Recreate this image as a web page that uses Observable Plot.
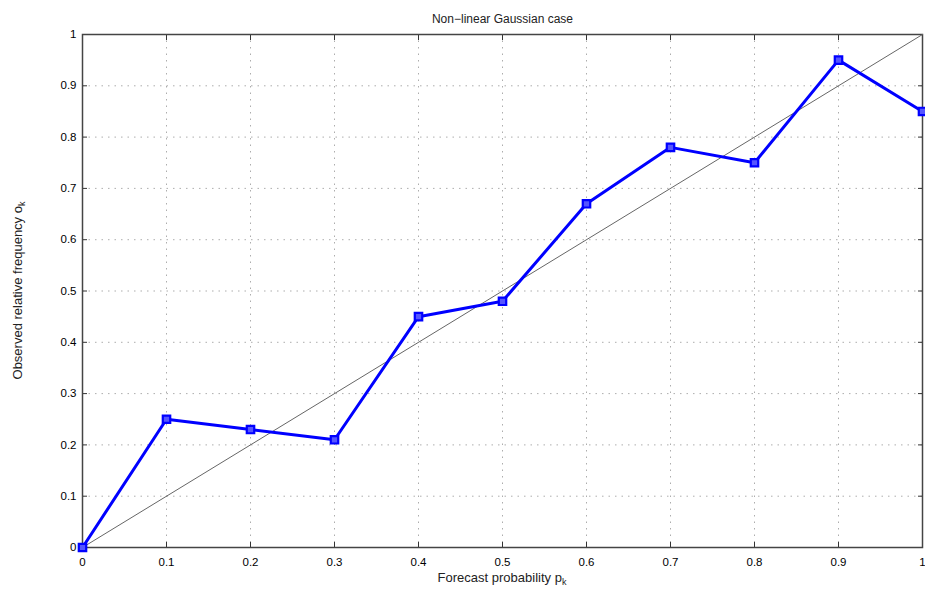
<!DOCTYPE html>
<html>
<head>
<meta charset="utf-8">
<script src="https://cdn.jsdelivr.net/npm/d3@7"></script>
<script src="https://cdn.jsdelivr.net/npm/@observablehq/plot@0.6"></script>
<style>
  html, body { margin: 0; padding: 0; background: #fff; }
  svg { display: block; }
</style>
</head>
<body>
<div id="chart"></div>
<script>
const forecastProb = [0, 0.1, 0.2, 0.3, 0.4, 0.5, 0.6, 0.7, 0.8, 0.9, 1.0];
const observedFreq = [0, 0.25, 0.23, 0.21, 0.45, 0.48, 0.67, 0.78, 0.75, 0.95, 0.85];
const tickValues = [0, 0.1, 0.2, 0.3, 0.4, 0.5, 0.6, 0.7, 0.8, 0.9, 1];
const diagonal = [0, 1];
const titleText = "Non\u2212linear Gaussian case";
const xLabel = "Forecast probability p";
const yLabel = "Observed relative frequency o";

const data = forecastProb.map((p, i) => ({p, o: observedFreq[i]}));
const diag = diagonal.map(v => ({p: v, o: v}));
const fmt = d => d === 0 ? "0" : d === 1 ? "1" : d3.format(".1f")(d);
const blank = () => "";

const font = "'Liberation Sans', Arial, Helvetica, sans-serif";

const plot = Plot.plot({
  width: 925,
  height: 594,
  marginLeft: 82,
  marginRight: 3,
  marginTop: 34,
  marginBottom: 47,
  style: {fontFamily: font, fontSize: "11.5px", color: "#000", background: "#fff"},
  x: {domain: [0, 1], ticks: tickValues},
  y: {domain: [0, 1], ticks: tickValues},
  marks: [
    Plot.gridX(tickValues, {stroke: "#999", strokeOpacity: 0.8, strokeDasharray: "1.5,5"}),
    Plot.gridY(tickValues, {stroke: "#999", strokeOpacity: 0.8, strokeDasharray: "1.5,5"}),
    Plot.axisX(tickValues, {anchor: "bottom", tickSize: -5, tickPadding: 15, tickFormat: fmt, label: null, stroke: "#333"}),
    Plot.axisX(tickValues, {anchor: "top", tickSize: -5, tickFormat: blank, label: null, stroke: "#333"}),
    Plot.axisY(tickValues, {anchor: "left", tickSize: -5, tickPadding: 11, tickFormat: fmt, label: null, stroke: "#333"}),
    Plot.axisY(tickValues, {anchor: "right", tickSize: -5, tickFormat: blank, label: null, stroke: "#333"}),
    Plot.frame({stroke: "#444", strokeWidth: 1.5}),
    Plot.line(diag, {x: "p", y: "o", stroke: "#666", strokeWidth: 1}),
    Plot.line(data, {x: "p", y: "o", stroke: "#0000ff", strokeWidth: 3}),
    Plot.dot(data, {x: "p", y: "o", symbol: "square", r: 4.2, stroke: "#0000ff", strokeWidth: 2.2, fill: "#5555ff"}),
    Plot.text([titleText], {frameAnchor: "top", dy: -20, fontSize: 12, fill: "#222"})
  ]
});

// Axis labels with subscript k
const svg = d3.select(plot);
const xl = svg.append("text")
  .attr("x", 82 + (925 - 82 - 3) / 2)
  .attr("y", 582)
  .attr("text-anchor", "middle")
  .attr("font-family", font)
  .attr("font-size", 13)
  .attr("fill", "#222");
xl.append("tspan").text(xLabel);
xl.append("tspan").attr("font-size", 9).attr("dy", 3).text("k");

const yl = svg.append("text")
  .attr("transform", `translate(22,${34 + (594 - 34 - 47) / 2}) rotate(-90)`)
  .attr("text-anchor", "middle")
  .attr("font-family", font)
  .attr("font-size", 13)
  .attr("fill", "#222");
yl.append("tspan").text(yLabel);
yl.append("tspan").attr("font-size", 9).attr("dy", 3).text("k");

document.getElementById("chart").appendChild(plot);
</script>
</body>
</html>
